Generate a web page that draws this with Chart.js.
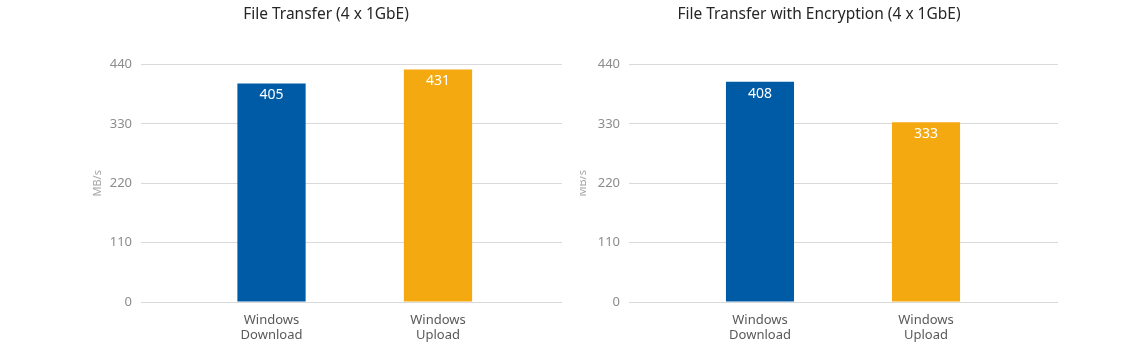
<!DOCTYPE html>
<html>
<head>
<meta charset="utf-8">
<script src="https://cdn.jsdelivr.net/npm/chart.js@4.4.1/dist/chart.umd.min.js"></script>
<style>
  body { margin: 0; background: #fff; }
  #wrap { position: relative; width: 1140px; height: 344px; }
  canvas { position: absolute; top: 0; }
</style>
</head>
<body>
<div id="wrap">
  <canvas id="plainChart" width="472" height="344" style="left:90px"></canvas>
  <canvas id="cryptChart" width="478" height="344" style="left:580px"></canvas>
</div>
<script>
// data
const categories = ['Windows Download', 'Windows Upload'];
const plainValues = [405, 431];
const encryptedValues = [408, 333];
const yMax = 440;
const yStep = 110;
const barColors = ['#005ba6', '#f4a911'];

const FONT = "'Noto Sans', sans-serif";

// white value text just under the top of each bar
const valueLabels = {
  id: 'valueLabels',
  afterDatasetsDraw(chart) {
    const ctx = chart.ctx;
    ctx.save();
    ctx.fillStyle = '#ffffff';
    ctx.font = '14px ' + FONT;
    ctx.textAlign = 'center';
    ctx.textBaseline = 'middle';
    chart.data.datasets.forEach((ds, i) => {
      chart.getDatasetMeta(i).data.forEach((bar, j) => {
        ctx.fillText(ds.data[j].y, bar.x, bar.y + 12);
      });
    });
    ctx.restore();
  }
};

function makeChart(id, title, values, opts) {
  return new Chart(document.getElementById(id).getContext('2d'), {
    type: 'bar',
    data: {
      datasets: [{
        data: values.map((v, i) => ({ x: i, y: v })),
        backgroundColor: barColors,
        borderWidth: 0,
        categoryPercentage: 1,
        barPercentage: 0.41
      }]
    },
    plugins: [valueLabels],
    options: {
      responsive: false,
      animation: false,
      devicePixelRatio: 1,
      layout: { padding: { left: 0, right: 0, top: 0, bottom: 1 } },
      plugins: {
        legend: { display: false },
        tooltip: { enabled: false },
        title: {
          display: true,
          text: title,
          color: '#262626',
          font: { family: FONT, size: 15.5, weight: 'normal' },
          padding: { top: 5, bottom: 41 }
        }
      },
      scales: {
        x: {
          type: 'linear',
          offset: false,
          min: opts.xMin,
          max: opts.xMax,
          grid: { display: false, drawTicks: false },
          border: { display: false },
          afterBuildTicks: axis => { axis.ticks = categories.map((c, i) => ({ value: i })); },
          afterFit: axis => { axis.height = 41; },
          ticks: {
            autoSkip: false,
            maxRotation: 0,
            padding: 11,
            color: '#595959',
            font: { family: FONT, size: 13, lineHeight: 1.15 },
            callback: v => categories[v] ? categories[v].split(' ') : ''
          }
        },
        y: {
          min: 0,
          max: yMax,
          afterFit: axis => { axis.width = opts.yWidth; },
          grid: { color: '#d9d9d9', drawTicks: false },
          border: { display: false },
          ticks: {
            stepSize: yStep,
            padding: 9,
            color: '#8c8c8c',
            font: { family: FONT, size: 13 }
          },
          title: {
            display: true,
            text: 'MB/s',
            color: '#a6a6a6',
            font: { family: FONT, size: 11 },
            padding: { top: opts.titlePad, bottom: 0 }
          }
        }
      }
    }
  });
}

makeChart('plainChart', 'File Transfer (4 x 1GbE)', plainValues,
  { yWidth: 51, xMin: -0.784, xMax: 1.745, titlePad: 1 });
makeChart('cryptChart', 'File Transfer with Encryption (4 x 1GbE)', encryptedValues,
  { yWidth: 49, xMin: -0.789, xMax: 1.795, titlePad: -3.5 });
</script>
</body>
</html>
